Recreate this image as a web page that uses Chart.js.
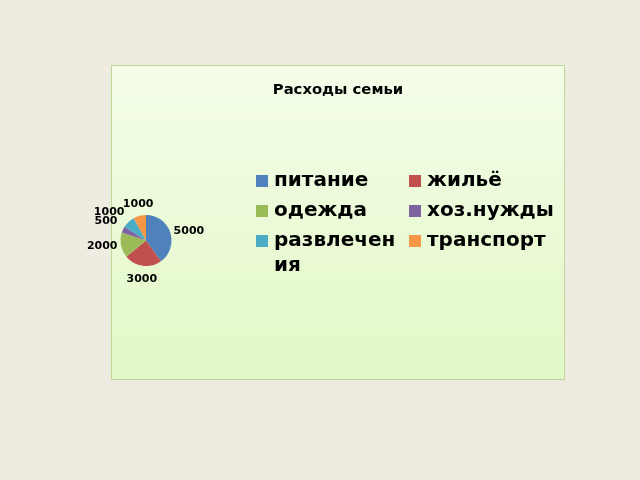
<!DOCTYPE html>
<html>
<head>
<meta charset="utf-8">
<script src="https://cdn.jsdelivr.net/npm/chart.js@4"></script>
<style>
  html, body { margin: 0; padding: 0; background: #EEEBE0; }
  #wrap { width: 640px; height: 480px; position: relative; }
</style>
</head>
<body>
<div id="wrap"><canvas id="pie" width="640" height="480"></canvas></div>
<script>
// chart data
const titleText = 'Расходы семьи';
const categories = ['питание', 'жильё', 'одежда', 'хоз.нужды', 'развлечения', 'транспорт'];
const amounts = [5000, 3000, 2000, 500, 1000, 1000];
const sliceColors = ['#4F81BD', '#C0504D', '#9BBB59', '#8064A2', '#4BACC6', '#F79646'];

// panel behind the chart + title
const panelPlugin = {
    id: 'panel',
    beforeDraw(chart) {
        const c = chart.ctx;
        const x = 111.5, y = 65.5, w = 453, h = 314;
        c.save();
        const g = c.createLinearGradient(0, y, 0, y + h);
        g.addColorStop(0, '#F4FDE9');
        g.addColorStop(1, '#E2F8C6');
        c.fillStyle = g;
        c.fillRect(x, y, w, h);
        c.strokeStyle = '#BFD696';
        c.lineWidth = 1;
        c.strokeRect(x, y, w, h);
        c.fillStyle = '#000';
        c.font = 'bold 14.8px "DejaVu Sans"';
        c.textAlign = 'center';
        c.textBaseline = 'middle';
        c.fillText(titleText, 338, 90);
        c.restore();
    }
};

// value labels just outside each slice
const valueLabels = {
    id: 'valueLabels',
    afterDatasetsDraw(chart) {
        const c = chart.ctx;
        const meta = chart.getDatasetMeta(0);
        c.save();
        c.font = 'bold 11px "DejaVu Sans"';
        c.fillStyle = '#000';
        meta.data.forEach((arc, i) => {
            const p = arc.getProps(['x', 'y', 'startAngle', 'endAngle', 'outerRadius'], true);
            const mid = (p.startAngle + p.endAngle) / 2;
            const cos = Math.cos(mid), sin = Math.sin(mid);
            let d = p.outerRadius + 3.5;
            if (sin > 0.4) d += 4;
            if (sin < -0.4) d += 2.5;
            c.textAlign = cos > 0.3 ? 'left' : (cos < -0.3 ? 'right' : 'center');
            c.textBaseline = sin > 0.4 ? 'top' : (sin < -0.4 ? 'bottom' : 'middle');
            c.fillText(String(amounts[i]), p.x + cos * d, p.y + sin * d);
        });
        c.restore();
    }
};

// two-column legend with wrapping, like the office chart
const sideLegend = {
    id: 'sideLegend',
    afterDraw(chart) {
        const c = chart.ctx;
        const cols = [256, 409];
        const maxW = 130;
        const rowGap = 30, lineGap = 25;
        c.save();
        c.font = 'bold 20px "DejaVu Sans"';
        c.textAlign = 'left';
        c.textBaseline = 'middle';
        let rowY = 181;
        for (let r = 0; r < Math.ceil(categories.length / 2); r++) {
            let extra = 0;
            for (let k = 0; k < 2; k++) {
                const i = r * 2 + k;
                if (i >= categories.length) break;
                const x = cols[k];
                c.fillStyle = sliceColors[i];
                c.fillRect(x, rowY - 6, 12, 12);
                // break the word by characters when it doesn't fit
                const lines = [];
                let cur = '';
                for (const ch of categories[i]) {
                    if (cur && c.measureText(cur + ch).width > maxW) { lines.push(cur); cur = ch; }
                    else cur += ch;
                }
                lines.push(cur);
                c.fillStyle = '#000';
                lines.forEach((ln, j) => c.fillText(ln, x + 18, rowY + j * lineGap));
                extra = Math.max(extra, (lines.length - 1) * lineGap);
            }
            rowY += rowGap + extra;
        }
        c.restore();
    }
};

new Chart(document.getElementById('pie'), {
    type: 'pie',
    data: {
        labels: categories,
        datasets: [{
            data: amounts,
            backgroundColor: sliceColors,
            borderWidth: 0
        }]
    },
    options: {
        responsive: false,
        animation: false,
        layout: { padding: { left: 120.5, right: 468.5, top: 215, bottom: 214 } },
        plugins: { legend: { display: false }, title: { display: false }, tooltip: { enabled: false } }
    },
    plugins: [panelPlugin, valueLabels, sideLegend]
});
</script>
</body>
</html>
